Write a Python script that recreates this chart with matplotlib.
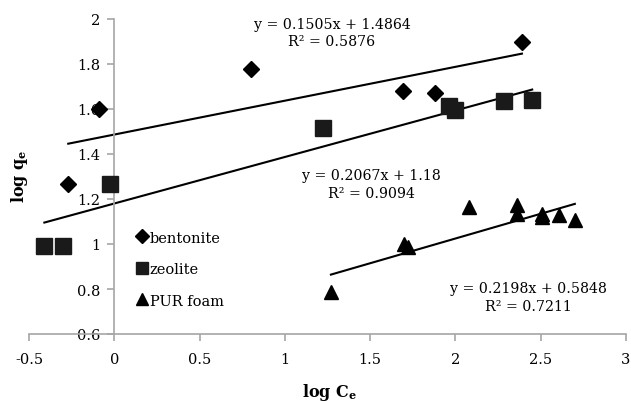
import matplotlib
matplotlib.use("Agg")
import matplotlib.pyplot as plt
import numpy as np

plt.rcParams['font.family'] = ['DejaVu Serif']
plt.rcParams['mathtext.fontset'] = 'dejavuserif'

# data
bent_x = [-0.27, -0.09, 0.80, 1.69, 1.88, 2.39]
bent_y = [1.265, 1.60, 1.78, 1.678, 1.672, 1.90]

zeo_x = [-0.41, -0.30, -0.025, 1.225, 1.965, 2.00, 2.285, 2.45]
zeo_y = [0.992, 0.992, 1.266, 1.515, 1.613, 1.595, 1.637, 1.638]

pur_x = [1.27, 1.70, 1.72, 2.08, 2.36, 2.36, 2.51, 2.51, 2.61, 2.70]
pur_y = [0.785, 1.0, 0.985, 1.165, 1.172, 1.135, 1.135, 1.12, 1.128, 1.108]

# trendline coefficients (slope, intercept) and R2 as printed
slopes = [0.1505, 0.2067, 0.2198]
intercepts = [1.4864, 1.18, 0.5848]
r2 = ["0.5876", "0.9094", "0.7211"]
eq_text = ["y = 0.1505x + 1.4864", "y = 0.2067x + 1.18", "y = 0.2198x + 0.5848"]

fig = plt.figure(figsize=(6.31, 4.02), dpi=100)
ax = fig.add_axes([29/631, 1 - 335/402, 597/631, 315/402])

ax.plot(bent_x, bent_y, linestyle='none', marker='D', markersize=8.5,
        color='black', label='bentonite', zorder=3)
ax.plot(zeo_x, zeo_y, linestyle='none', marker='s', markersize=11,
        color='#1a1a1a', label='zeolite', zorder=3)
ax.plot(pur_x, pur_y, linestyle='none', marker='^', markersize=10.5,
        color='black', label='PUR foam', zorder=3)

# linear trendlines over each series range
for xs, m, b in zip([bent_x, zeo_x, pur_x], slopes, intercepts):
    xx = np.array([min(xs), max(xs)])
    ax.plot(xx, m * xx + b, color='black', linewidth=1.5, zorder=2)

fs = 10.5
pos = [(1.276, 1.94), (1.51, 1.267), (2.43, 0.764)]
for (tx, ty), e, r in zip(pos, eq_text, r2):
    ax.text(tx, ty, e + "\nR² = " + r, ha='center', va='center',
            fontsize=10.2, linespacing=1.35, multialignment='center')

ax.set_xlim(-0.5, 3)
ax.set_ylim(0.6, 2)
ax.set_xticks(np.arange(-0.5, 3.01, 0.5))
ax.set_xticklabels(['-0.5', '0', '0.5', '1', '1.5', '2', '2.5', '3'])
ax.set_yticks(np.arange(0.6, 2.01, 0.2))
ax.set_yticklabels(['0.6', '0.8', '1', '1.2', '1.4', '1.6', '1.8', '2'])

ax.spines['left'].set_position(('data', 0))
ax.spines['bottom'].set_position(('data', 0.6))
ax.spines['top'].set_visible(False)
ax.spines['right'].set_visible(False)
for s in ['left', 'bottom']:
    ax.spines[s].set_color('#a6a6a6')
    ax.spines[s].set_linewidth(1.2)
ax.tick_params(axis='both', direction='out', length=5, width=1.2,
               color='#a6a6a6', labelsize=fs, labelcolor='black')
ax.tick_params(axis='x', pad=8)
ax.tick_params(axis='y', pad=5)

leg = ax.legend(loc='upper left', bbox_to_anchor=(0.168, 0.347), frameon=False,
                fontsize=fs, handletextpad=0.0, handlelength=1.0,
                labelspacing=1.2, markerscale=0.8, borderaxespad=0)

fig.text(330/631, 1 - 393/402, r"log C$_\mathbf{e}$", ha='center', va='center',
         fontsize=11.5, fontweight='bold')
fig.text(19/631, 1 - 176/402, r"log q$_\mathbf{e}$", ha='center', va='center',
         fontsize=11.5, fontweight='bold', rotation=90)

fig.savefig("out.png", dpi=100)
